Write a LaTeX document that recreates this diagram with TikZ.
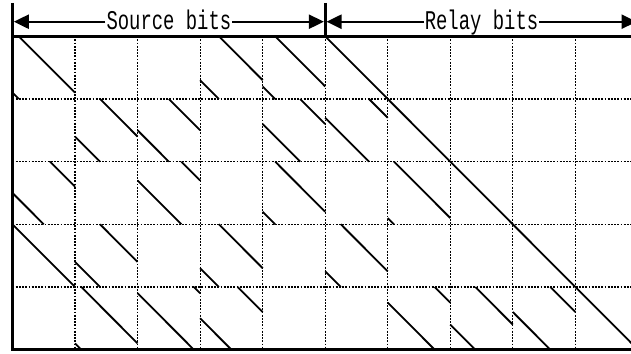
\documentclass[tikz,border=0pt]{standalone}
\usepackage{fontspec}
\newfontfamily\labelfont[FakeStretch=0.7]{Liberation Mono}
\usetikzlibrary{arrows.meta,calc}

\tikzset{
  bit/.style={line width=1.8pt},
  frame/.style={line width=2.6pt},
  gridline/.style={line width=1.2pt, dash pattern=on 1.8pt off 1.4pt},
  span/.style={line width=2.2pt, -{Triangle[length=15pt,width=14pt]}},
  spanlabel/.style={font=\labelfont\fontsize{27}{30}\selectfont, inner sep=1pt, anchor=base},
}

% circulant block: column, row, shift (fraction of the block width)
\newcommand\qcell[3]{%
  \draw[bit] ({#1+#3},{#2}) -- ({#1+1},{#2+1-#3});
  \ifdim #3pt>0pt \draw[bit] ({#1},{#2+1-#3}) -- ({#1+#3},{#2+1}); \fi}
% block whose wrapped part uses its own shift: column, row, shift, wrap shift
\newcommand\qsplit[4]{%
  \draw[bit] ({#1+#3},{#2}) -- ({#1+1},{#2+1-#3});
  \draw[bit] ({#1},{#2+1-#4}) -- ({#1+#4},{#2+1});}

\begin{document}
\begin{tikzpicture}[x=1pt,y=-1pt]
\useasboundingbox (0,0) rectangle (631,353);
\clip (0,0) rectangle (631,353);

% header: spans of the two bit groups
\coordinate (srcL) at (13.8,21.7);
\coordinate (srcR) at (323.9,21.7);
\coordinate (relL) at (326.5,21.7);
\coordinate (relR) at (636.6,21.7);
\node[spanlabel] (src) at (168.9,29.2) {Source bits};
\node[spanlabel] (relay) at (481.5,29.2) {Relay bits};
\draw[span] (src.west |- srcL) -- (srcL);
\draw[span] (src.east |- srcR) -- (srcR);
\draw[span] (relay.west |- relL) -- (relL);
\draw[span] (relay.east |- relR) -- (relR);

\begin{scope}[shift={(12.5,36.3)}, x=62.54pt, y=-62.67pt]
  % block grid
  \foreach \c in {1,...,9} \draw[gridline] (\c,0) -- (\c,5);
  \foreach \r in {1,...,4} \draw[gridline] (0,\r) -- (10.2,\r);

  % row 0
  \qcell{0}{0}{0.1}
  \qcell{3}{0}{0.3}
  \qcell{4}{0}{0.2}
  % row 1
  \qcell{1}{1}{0.4}
  \qcell{2}{1}{0.5}
  \qcell{4}{1}{0.6}
  \qcell{5}{1}{0.7}
  % row 2
  \qsplit{0}{2}{0.6}{0.5}
  \qcell{2}{2}{0.7}
  \qcell{4}{2}{0.2}
  \qcell{6}{2}{0.1}
  % row 3
  \qcell{0}{3}{0}
  \qcell{1}{3}{0.4}
  \qcell{3}{3}{0.3}
  \qcell{5}{3}{0.25}
  % row 4
  \qcell{1}{4}{0.1}
  \qcell{2}{4}{0.9}
  \qsplit{3}{4}{0.6}{0.5}
  \qcell{6}{4}{0.75}
  \qcell{7}{4}{0.4}
  \qcell{8}{4}{0.6}
  % identity staircase of the relay part
  \draw[bit] (5,0) -- (10,5);

  % outer frame
  \draw[frame] (0,0) -- (10.2,0);
  \draw[frame] (0,5) -- (10.2,5);
\end{scope}

\draw[frame] (12.5,3) -- (12.5,351);
\draw[frame] (325.2,3) -- (325.2,36.3);
\end{tikzpicture}
\end{document}
